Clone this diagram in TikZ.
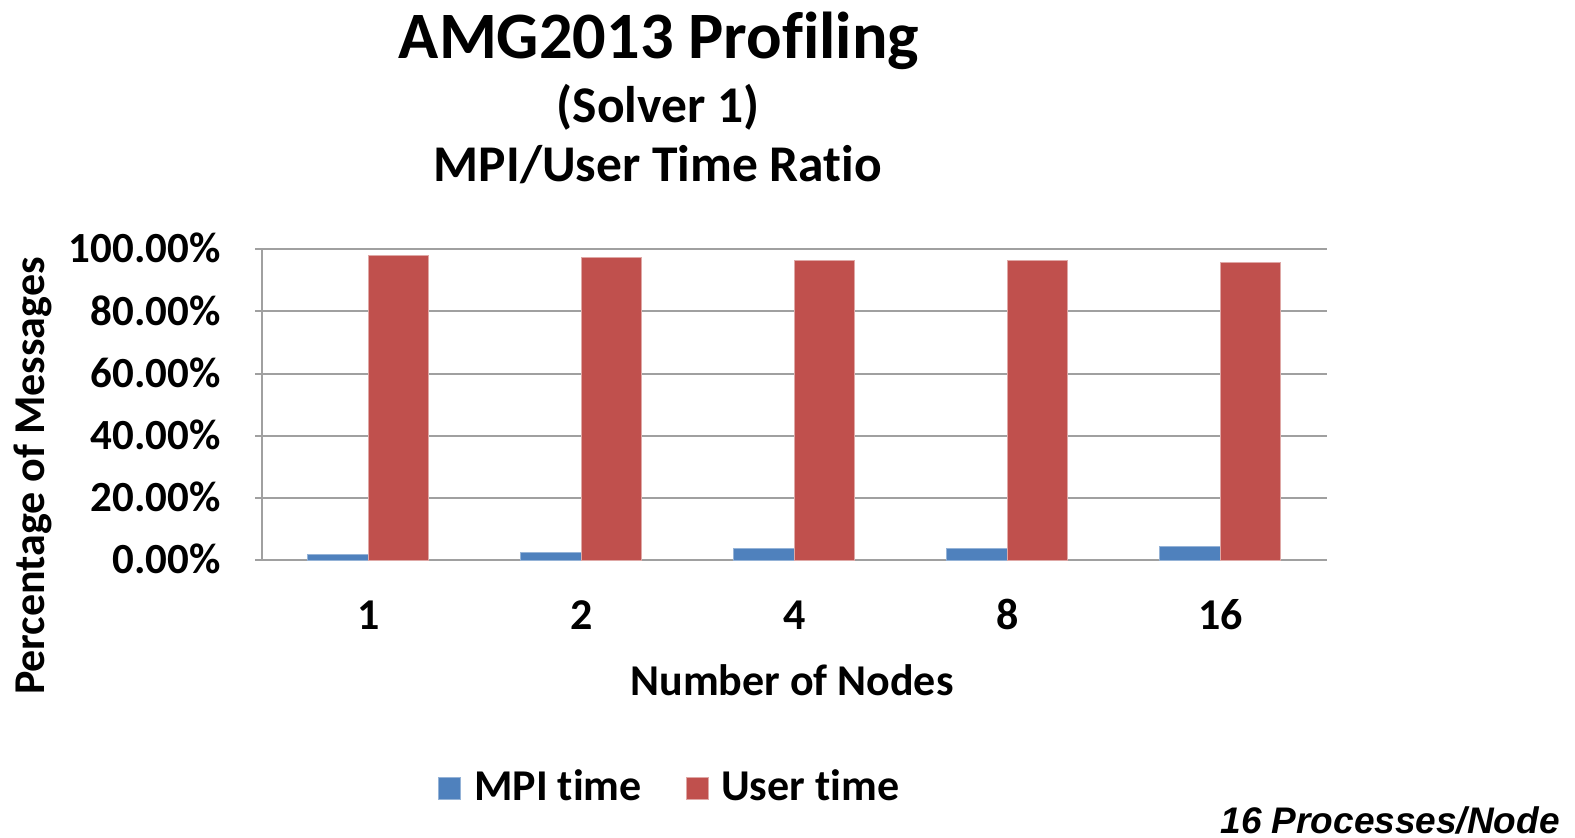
\documentclass[tikz,border=0pt]{standalone}
\usepackage{fontspec}
\setmainfont{Carlito}[Ligatures=NoCommon]
\newfontfamily\notefont{Liberation Sans}
\definecolor{mpiblue}{HTML}{4F81BD}
\definecolor{userred}{HTML}{C0504D}
\definecolor{gridgray}{HTML}{A0A0A0}
\begin{document}
\begin{tikzpicture}[x=1pt,y=-1pt,
  grid/.style={draw=gridgray,line width=2pt},
  mpibar/.style={fill=mpiblue,draw=mpiblue!60!white,line width=0.8pt},
  userbar/.style={fill=userred,draw=userred!50!white,line width=0.8pt},
  ticklab/.style={font=\bfseries\fontsize{44}{44}\selectfont,inner sep=0pt},
  ylab/.style={font=\bfseries\fontsize{43}{43}\selectfont,inner sep=0pt,anchor=base east},
  titlelab/.style={font=\bfseries\fontsize{66.3}{66}\selectfont,inner sep=0pt,anchor=base},
  sublab/.style={font=\bfseries\fontsize{51.5}{51}\selectfont,inner sep=0pt,anchor=base},
  leglab/.style={font=\bfseries\fontsize{44}{44}\selectfont,inner sep=0pt,anchor=base west}]
\useasboundingbox[fill=white] (0,0) rectangle (1575,838);
% titles
\node[titlelab] (title) at (659,58) {AMG2013 Profiling};
\node[sublab] (sub1) at (658,122) {(Solver 1)};
\node[sublab] (sub2) at (658,181) {MPI/User Time Ratio};
% gridlines and y labels
\foreach \v/\t in {0/0.00\%,20/20.00\%,40/40.00\%,60/60.00\%,80/80.00\%,100/100.00\%}{
  \pgfmathsetmacro{\yy}{560-3.107*\v}
  \draw[grid] (255,\yy) -- (1327,\yy);
  \node[ylab] (y\v) at (221,\yy+13.6) {\t};
}
\draw[grid] (262,249) -- (262,560);
% bars
\foreach \i/\c/\m/\u in {1/368.5/1.9/98.1,2/581.5/2.6/97.4,3/794.5/3.7/96.3,4/1007.5/3.6/96.4,5/1220.5/4.3/95.7}{
  \fill[mpibar] (\c-61,560) rectangle (\c,560-3.107*\m);
  \fill[userbar] (\c,560) rectangle (\c+60,560-3.107*\u);
  \draw[mpibar] (\c-61,560) rectangle (\c,560-3.107*\m);
  \draw[userbar] (\c,560) rectangle (\c+60,560-3.107*\u);
}
% x labels
\foreach \c/\t/\n in {368.5/1/a,581.5/2/b,794.5/4/c,1007.5/8/d,1220.5/16/e}{
  \node[ticklab,anchor=base] (x\n) at (\c,629) {\t};
}
\node[ticklab,anchor=base] (xtitle) at (792,695) {Number of Nodes};
\node[ticklab,anchor=base,rotate=90] (ytitle) at (44,476) {Percentage of Messages};
% legend
\fill[mpibar] (438,777) rectangle (460,799);
\node[leglab] (leg1) at (474,800) {MPI time};
\fill[userbar] (686,777) rectangle (708,799);
\node[leglab] (leg2) at (721,800) {User time};
% note
\node[font=\notefont\bfseries\itshape\fontsize{37}{37}\selectfont,inner sep=0pt,anchor=base east] (note) at (1560,833) {16 Processes/Node};
\end{tikzpicture}
\end{document}
